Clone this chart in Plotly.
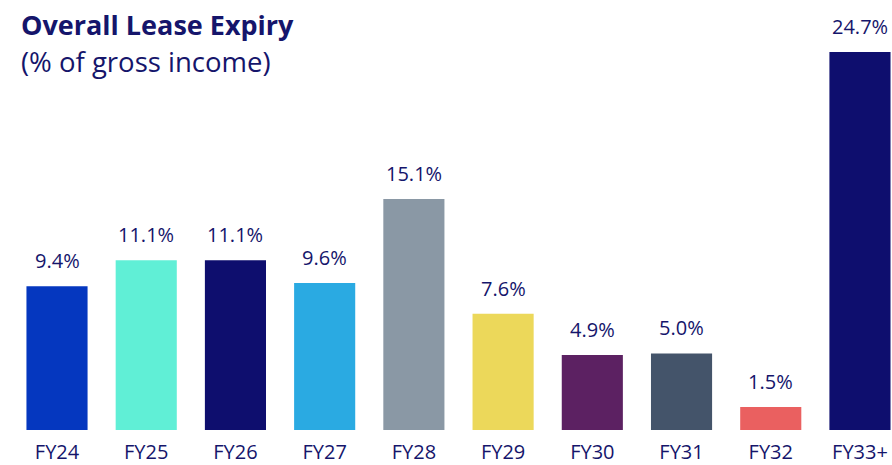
import plotly.graph_objects as go

categories = ["FY24", "FY25", "FY26", "FY27", "FY28", "FY29", "FY30", "FY31", "FY32", "FY33+"]
values = [9.4, 11.1, 11.1, 9.6, 15.1, 7.6, 4.9, 5.0, 1.5, 24.7]
labels = ["9.4%", "11.1%", "11.1%", "9.6%", "15.1%", "7.6%", "4.9%", "5.0%", "1.5%", "24.7%"]
colors = ["#0537BF", "#60EFD6", "#0E0E6E", "#2AAAE2", "#8A98A5",
          "#ECD85A", "#5C2162", "#44546A", "#EA6060", "#0E0E6E"]
title_line1 = "Overall Lease Expiry"
title_line2 = "(% of gross income)"

navy = "#15156B"
font_family = "Open Sans, Lato, sans-serif"

x_idx = list(range(len(categories)))

fig = go.Figure()
fig.add_trace(go.Bar(
    x=x_idx, y=values, marker=dict(color=colors, line=dict(width=0)),
    width=0.685, hoverinfo="skip", showlegend=False,
))

for xi, v, lab in zip(x_idx, values, labels):
    fig.add_annotation(x=xi, y=v, text=lab, showarrow=False, yanchor="bottom",
                       yshift=10, font=dict(size=20, color=navy, family=font_family))

fig.add_annotation(xref="paper", yref="paper", x=19/892, y=1, xanchor="left", yanchor="middle",
                   yshift=-24, text="<b>" + title_line1 + "</b>", showarrow=False,
                   font=dict(size=27, color=navy, family=font_family))
fig.add_annotation(xref="paper", yref="paper", x=19/892, y=1, xanchor="left", yanchor="middle",
                   yshift=-61, text=title_line2, showarrow=False,
                   font=dict(size=27.5, color=navy, family=font_family))

fig.update_layout(
    width=892, height=465,
    margin=dict(l=0, r=0, t=0, b=35, pad=0, autoexpand=False),
    paper_bgcolor="white", plot_bgcolor="white",
    xaxis=dict(
        tickmode="array", tickvals=x_idx, ticktext=categories,
        range=[-0.639, 9.359], showgrid=False, zeroline=False, showline=False,
        ticks="", ticklabelstandoff=8, automargin=False,
        tickfont=dict(size=20, color=navy, family=font_family),
    ),
    yaxis=dict(range=[0, 28.1], visible=False, showgrid=False, zeroline=False),
)

fig.write_html("out.html", config={"displayModeBar": False},
               post_script="document.body.style.margin='0';")
